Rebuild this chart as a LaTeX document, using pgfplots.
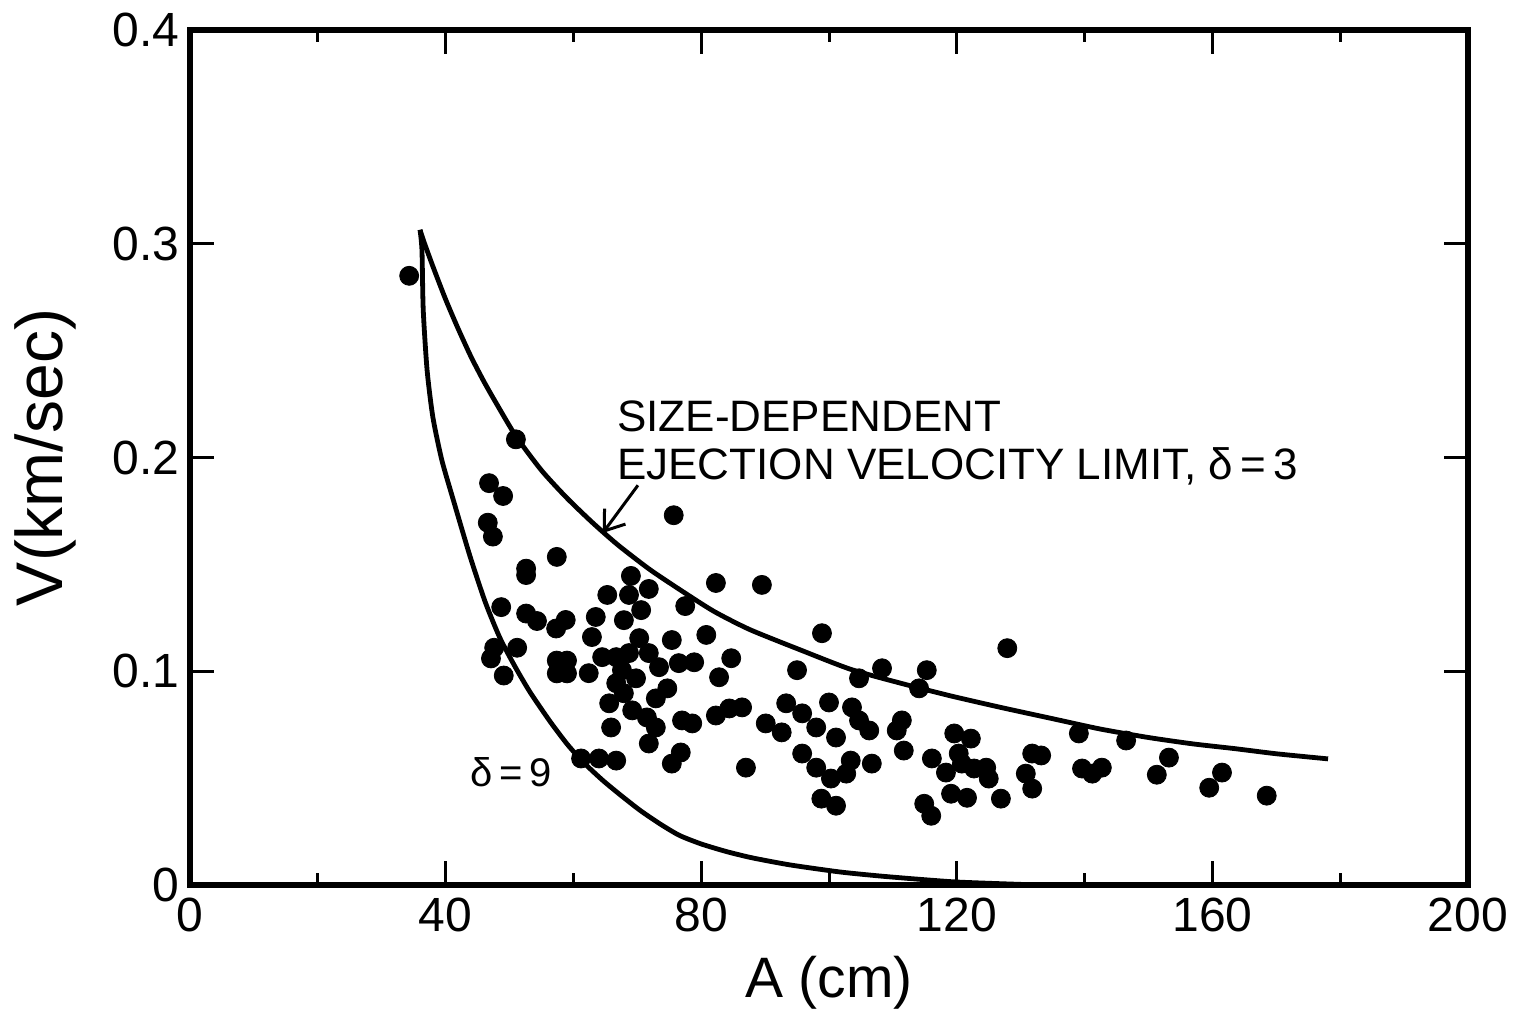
\documentclass[border=0pt]{standalone}
\usepackage{pgfplots}
\pgfplotsset{compat=1.18}
\usepackage{pgfplotstable}
\usepackage{fontspec}
\setmainfont{Liberation Sans}
\usetikzlibrary{arrows.meta}

\pgfplotstableread{
A V
34.3 0.285
51.0 0.2085
46.8 0.188
49.0 0.182
46.6 0.1695
47.4 0.163
75.7 0.173
57.4 0.1535
52.6 0.148
52.6 0.145
48.7 0.130
52.6 0.127
54.3 0.1235
58.8 0.124
57.3 0.120
47.6 0.111
51.2 0.111
47.1 0.106
49.1 0.098
57.4 0.105
59.0 0.105
57.4 0.099
59.0 0.099
69.0 0.1446
71.8 0.1385
65.3 0.1357
68.7 0.1357
70.6 0.1286
63.5 0.1254
67.9 0.1239
82.3 0.1413
89.5 0.1404
77.5 0.1305
62.9 0.116
70.3 0.1155
75.4 0.1146
80.8 0.117
98.9 0.1178
64.5 0.1066
66.7 0.1066
68.7 0.1085
71.8 0.1085
73.4 0.1019
76.5 0.1038
78.9 0.1042
84.7 0.1061
82.8 0.0972
62.4 0.0991
67.6 0.1005
69.8 0.0967
66.7 0.0944
65.6 0.085
67.9 0.0897
74.7 0.092
72.9 0.0873
95.0 0.1005
104.7 0.0967
108.3 0.1014
69.2 0.0817
71.5 0.0784
72.9 0.0737
71.8 0.0662
65.9 0.0737
77.0 0.077
78.6 0.0756
82.3 0.0793
84.4 0.0826
86.4 0.0831
90.1 0.0756
92.6 0.0714
93.3 0.085
95.8 0.0803
98.0 0.0737
100.0 0.0854
101.1 0.069
103.6 0.0831
104.7 0.077
106.3 0.0723
76.8 0.062
75.4 0.0568
87.0 0.0549
95.8 0.0615
98.0 0.0549
100.3 0.0498
102.7 0.0521
103.4 0.0582
106.7 0.0568
98.8 0.0404
101.1 0.0371
61.2 0.0592
64.0 0.0592
66.7 0.0582
110.6 0.0723
115.3 0.1005
114.1 0.092
127.9 0.1108
139.1 0.0709
111.4 0.077
111.7 0.0629
119.6 0.0709
122.2 0.0685
116.1 0.0592
118.3 0.0526
120.3 0.0615
122.7 0.0545
125.0 0.0498
119.1 0.0427
121.6 0.0408
126.9 0.0404
114.9 0.038
116.0 0.0324
131.8 0.0615
133.2 0.0606
130.8 0.0521
131.8 0.0451
146.5 0.0676
139.6 0.0545
142.7 0.0549
153.2 0.0596
151.3 0.0516
161.5 0.0526
159.5 0.0455
168.5 0.0418
141.2 0.0521
120.8 0.0568
124.6 0.0549
}\pointsdata

\pgfplotstableread{
A V
36.0 0.3065
36.6 0.3010
38.0 0.2895
40.0 0.2740
42.0 0.2600
44.0 0.2470
46.0 0.2355
48.0 0.2250
51.0 0.2100
55.0 0.1940
59.0 0.1810
63.0 0.1695
67.0 0.1590
72.0 0.1475
77.0 0.1375
82.0 0.1280
87.6 0.1195
95.5 0.1100
103.3 0.1010
111.1 0.0945
119.0 0.0885
127.0 0.0830
135.0 0.0778
142.4 0.0730
150.0 0.0690
157.0 0.0660
163.5 0.0638
170.0 0.0614
178.1 0.0590
}\uppercurve

\pgfplotstableread{
A V
36.0 0.3065
36.3 0.2971
36.5 0.2691
37.1 0.2410
38.0 0.2190
39.4 0.1989
41.2 0.1802
43.8 0.1540
46.2 0.1324
48.5 0.1156
50.9 0.1020
53.2 0.0903
56.3 0.0767
59.0 0.0660
61.5 0.0576
64.5 0.0492
67.2 0.0425
70.4 0.0350
73.6 0.0285
76.6 0.0232
80.0 0.0192
84.0 0.0156
88.0 0.0127
93.9 0.0094
101.7 0.0061
108.0 0.0042
114.0 0.0027
120.0 0.0014
127.9 0.0005
133.0 0.0
}\lowercurve

\begin{document}
\begin{tikzpicture}
\useasboundingbox (-95pt,-66.5pt) rectangle (665.5pt,442.5pt);
\begin{axis}[
  at={(0,0)}, anchor=south west,
  scale only axis, width=639pt, height=427.5pt,
  xmin=0, xmax=200, ymin=0, ymax=0.4,
  xtick={0,40,80,120,160,200},
  xticklabels={0,40,80,120,160,200},
  minor xtick={20,60,100,140,180},
  ytick={0,0.1,0.2,0.3,0.4},
  yticklabels={0,0.1,0.2,0.3,0.4},
  /pgf/number format/assume math mode=true,
  tick align=inside,
  major tick length=12pt, minor tick length=6pt,
  every tick/.style={line width=1.5pt, black},
  axis line style={line width=3pt, line join=miter},
  tick label style={font=\fontsize{24}{28}\selectfont},
  xticklabel style={anchor=north, inner sep=0pt, yshift=-6.5pt},
  yticklabel style={anchor=east, inner sep=0pt, xshift=-5pt},
  xlabel={A (cm)},
  ylabel={V(km/sec)},
  xlabel style={font=\fontsize{28.5}{34}\selectfont, at={(axis description cs:0.5,-0.1146)}, anchor=center},
  ylabel style={font=\fontsize{33}{38}\selectfont, at={(axis description cs:-0.1135,0.5)}, anchor=center},
]
\addplot[black, line width=2.4pt, smooth, tension=0.4] table[x=A, y=V] {\uppercurve};
\addplot[black, line width=2.4pt, smooth, tension=0.4] table[x=A, y=V] {\lowercurve};
\addplot[only marks, mark=*, mark size=4.75pt, black] table[x=A, y=V] {\pointsdata};

\node[anchor=base west, inner sep=0pt, font=\fontsize{22}{26}\selectfont] at (axis cs:66.8,0.2120) {SIZE-DEPENDENT};
\node[anchor=base west, inner sep=0pt, font=\fontsize{22}{26}\selectfont] at (axis cs:66.8,0.1895) {EJECTION VELOCITY LIMIT, δ\thinspace=\thinspace3};
\node[anchor=base west, inner sep=0pt, font=\fontsize{20}{24}\selectfont] at (axis cs:43.8,0.0463) {δ\thinspace=\thinspace9};
\draw[line width=1.5pt, -{Straight Barb[length=9pt, width=13pt]}] (axis cs:70.1,0.1870) -- (axis cs:64.6,0.1647);
\end{axis}
\end{tikzpicture}
\end{document}
